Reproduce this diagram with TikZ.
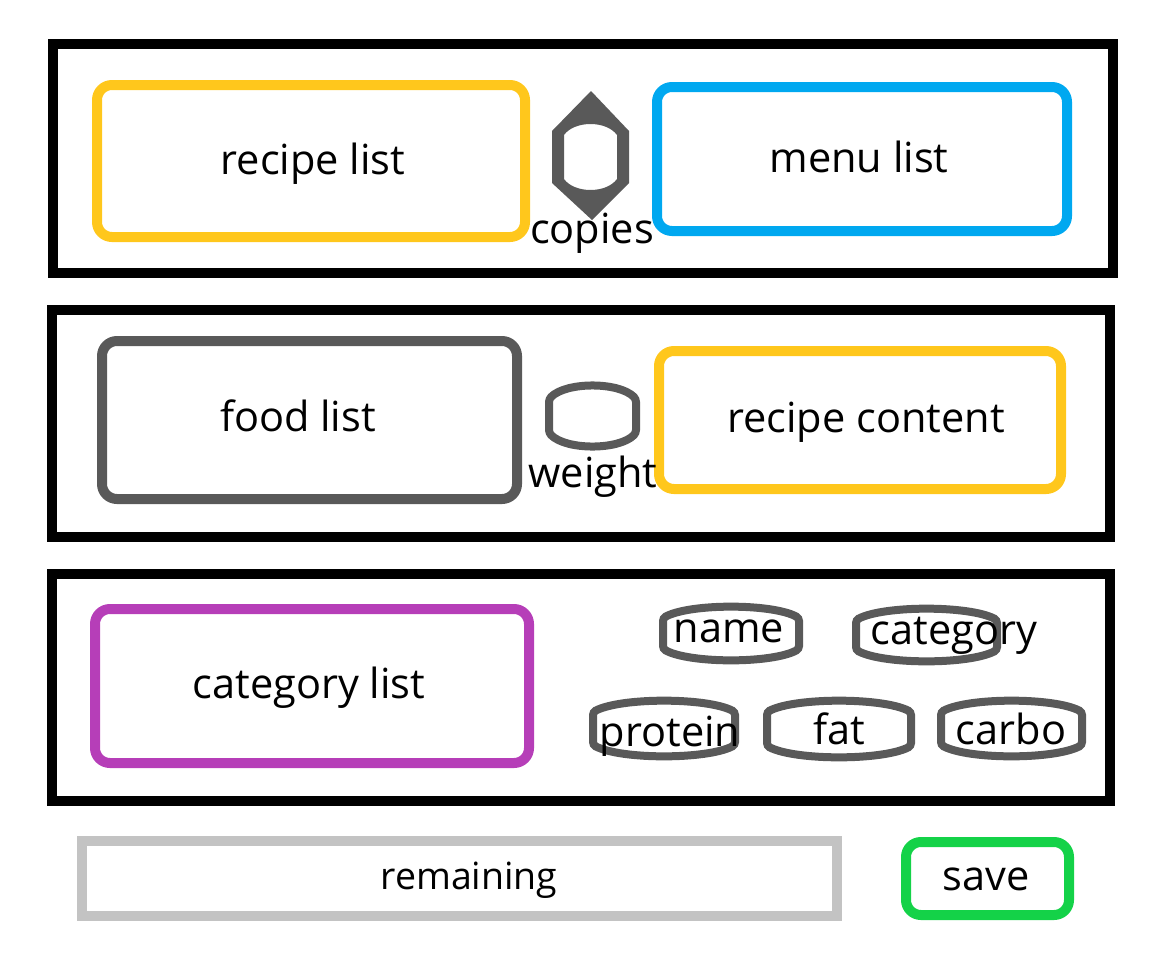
\documentclass[tikz,border=0pt]{standalone}
\usepackage{fontspec}
\setmainfont{Open Sans}
\definecolor{recipeyellow}{RGB}{255,199,28}
\definecolor{menublue}{RGB}{0,168,240}
\definecolor{darkgrey}{RGB}{89,89,89}
\definecolor{catpurple}{RGB}{182,62,184}
\definecolor{lightgrey}{RGB}{195,195,195}
\definecolor{savegreen}{RGB}{20,210,72}
% barrel: x1, y1, x2, y2, bulge
\newcommand{\barrel}[5]{({#1},{#2+#5}) .. controls ({#1+0.2*(#3-#1)},{#2-#5/3}) and ({#3-0.2*(#3-#1)},{#2-#5/3}) .. ({#3},{#2+#5}) -- ({#3},{#4-#5}) .. controls ({#3-0.2*(#3-#1)},{#4+#5/3}) and ({#1+0.2*(#3-#1)},{#4+#5/3}) .. ({#1},{#4-#5}) -- cycle}
\begin{document}
\begin{tikzpicture}[x=1pt,y=-1pt,
    frame/.style={draw=black,line width=10pt},
    listbox/.style={line width=10pt,rounded corners=15pt},
    field/.style={draw=darkgrey,line width=8pt,rounded corners=3pt},
    lbl/.style={inner sep=0pt,font=\fontsize{41.5}{48}\selectfont}]
  \useasboundingbox (0,0) rectangle (1164,966);
  % frames
  \draw[frame] (53,44) rectangle (1113,273);
  \draw[frame] (52,310) rectangle (1110,537);
  \draw[frame] (52,574) rectangle (1110,801);
  % top row
  \draw[listbox,recipeyellow] (97,85) rectangle (525,237);   \node[lbl] (recipelist) at (313,164) {recipe list};
  \draw[listbox,menublue] (657,87) rectangle (1067,231);     \node[lbl] (menulist) at (859,157) {menu list};
  \fill[darkgrey,even odd rule] (591,91) -- (629,131) -- (629,183) -- (592,220) -- (552,183) -- (552,131) -- cycle \barrel{564}{124}{617}{190}{11};
  \node[lbl] (copies) at (592,233) {copies};
  % middle row
  \draw[listbox,darkgrey] (102,341) rectangle (517,499);     \node[lbl] (foodlist) at (298,416) {food list};
  \draw[listbox,recipeyellow] (659,351) rectangle (1061,489); \node[lbl] (recipecontent) at (866,422) {recipe content};
  \draw[field] \barrel{549}{386}{636}{446}{13};
  \node[lbl] (weight) at (593,477) {weight};
  % bottom row
  \draw[listbox,catpurple] (95,609) rectangle (529,763);     \node[lbl] (categorylist) at (309,688) {category list};
  \draw[field] \barrel{663}{607}{799}{660}{11};  \node[lbl] (name) at (729,631) {name};
  \draw[field] \barrel{856}{609}{997}{661}{11};  \node[lbl] (category) at (954,636) {category};
  \draw[field] \barrel{593}{701}{735}{756}{11};  \node[lbl] (protein) at (670,736) {protein};
  \draw[field] \barrel{767}{701}{911}{757}{11};  \node[lbl] (fat) at (839,729) {fat};
  \draw[field] \barrel{941}{701}{1082}{756}{11}; \node[lbl] (carbo) at (1011,729) {carbo};
  % footer
  \draw[lightgrey,line width=10pt] (82,841) rectangle (837,916);
  \node[lbl,font=\fontsize{37.5}{44}\selectfont] (remaining) at (469,880) {remaining};
  \draw[listbox,savegreen] (906,842) rectangle (1069,915);   \node[lbl] (save) at (986,879) {save};
\end{tikzpicture}
\end{document}
